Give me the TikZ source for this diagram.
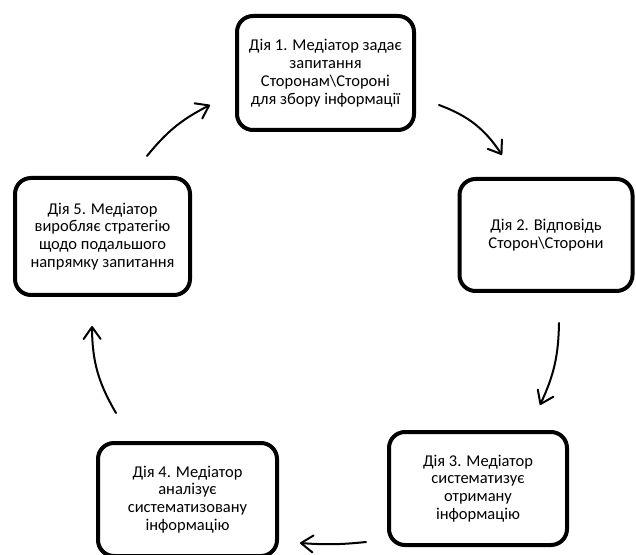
\documentclass[tikz,border=0pt]{standalone}
\usepackage{fontspec}
\setmainfont{Carlito}
\usetikzlibrary{arrows.meta}
\tikzset{
  stepbox/.style={draw=black, line width=4pt, rounded corners=16pt, align=center,
    inner sep=0pt, font=\fontsize{16.5}{17.8}\selectfont},
  cyclearrow/.style={line width=2pt, line cap=round,
    -{Straight Barb[length=12pt,width=17pt,line width=2pt,round]}}
}
\begin{document}
\begin{tikzpicture}[x=1pt,y=1pt]
\useasboundingbox (0,0) rectangle (636,554);
\node[stepbox, minimum width=177pt, minimum height=114pt] (b1) at (325.5,481)
  {Дія 1. Медіатор задає\\запитання\\Сторонам\textbackslash Стороні\\для збору інформації};
\node[stepbox, minimum width=173pt, minimum height=112pt] (b2) at (546,319)
  {Дія 2. Відповідь\\Сторон\textbackslash Сторони};
\node[stepbox, minimum width=178pt, minimum height=113pt] (b3) at (478,65.5)
  {Дія 3. Медіатор\\систематизує\\отриману\\інформацію};
\node[stepbox, minimum width=179pt, minimum height=113pt] (b4) at (187.5,54.5)
  {Дія 4. Медіатор\\аналізує\\систематизовану\\інформацію};
\node[stepbox, minimum width=175pt, minimum height=117pt] (b5) at (102.5,317.5)
  {Дія 5. Медіатор\\виробляє стратегію\\щодо подальшого\\напрямку запитання};
\coordinate (a1s) at (439,449);
\coordinate (a1e) at (502,399);
\coordinate (a2s) at (559,231);
\coordinate (a2e) at (540,149);
\coordinate (a3s) at (366,12);
\coordinate (a3e) at (300,11);
\coordinate (a4s) at (116,141);
\coordinate (a4e) at (92,228);
\coordinate (a5s) at (147,398);
\coordinate (a5e) at (210,449);
\draw[cyclearrow] (a1s) to[bend left=18] (a1e);
\draw[cyclearrow] (a2s) to[bend left=12] (a2e);
\draw[cyclearrow] (a3s) to[bend left=5] (a3e);
\draw[cyclearrow] (a4s) to[bend left=15] (a4e);
\draw[cyclearrow] (a5s) to[bend left=12] (a5e);
\end{tikzpicture}
\end{document}
